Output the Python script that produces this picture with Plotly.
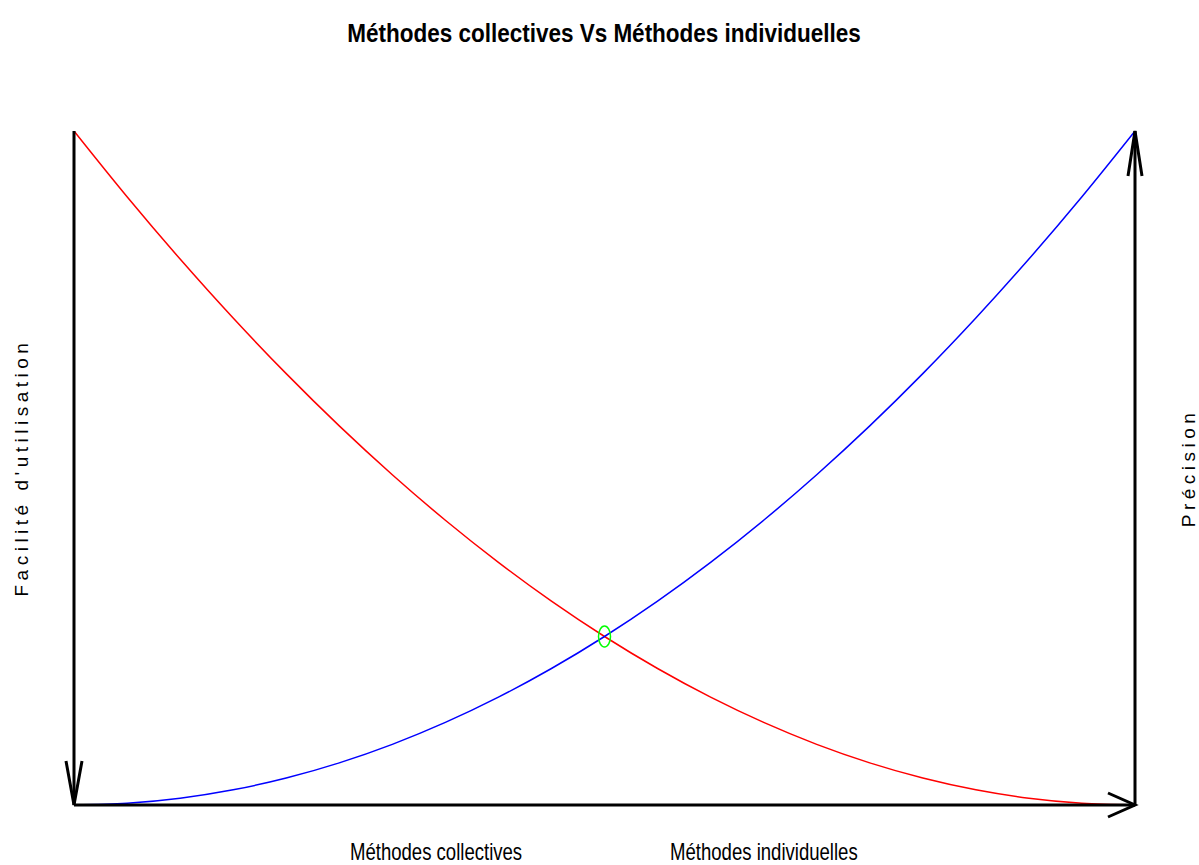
import plotly.graph_objects as go

# values (x runs 0..1 along the bottom axis)
x_vals = [0.0, 0.05, 0.1, 0.15, 0.2, 0.25, 0.3, 0.35, 0.4, 0.45, 0.5,
          0.55, 0.6, 0.65, 0.7, 0.75, 0.8, 0.85, 0.9, 0.95, 1.0]
facilite = [1.0, 0.9025, 0.81, 0.7225, 0.64, 0.5625, 0.49, 0.4225, 0.36, 0.3025, 0.25,
            0.2025, 0.16, 0.1225, 0.09, 0.0625, 0.04, 0.0225, 0.01, 0.0025, 0.0]
precision = [0.0, 0.0025, 0.01, 0.0225, 0.04, 0.0625, 0.09, 0.1225, 0.16, 0.2025, 0.25,
             0.3025, 0.36, 0.4225, 0.49, 0.5625, 0.64, 0.7225, 0.81, 0.9025, 1.0]
cross_x = [0.5]
cross_y = [0.25]
group_labels = ["Méthodes collectives", "Méthodes individuelles"]
group_pos = [0.341, 0.650]

W, H = 1199, 865
ML, MR, MT, MB = 74, 64, 131, 60
pw = W - ML - MR
ph = H - MT - MB
px_x = 1 / pw   # paper units per pixel
px_y = 1 / ph

fig = go.Figure()
fig.add_trace(go.Scatter(x=x_vals, y=facilite, mode="lines", line_shape="spline",
                         line=dict(color="#ff0000", width=1.5), cliponaxis=False))
fig.add_trace(go.Scatter(x=x_vals, y=precision, mode="lines", line_shape="spline",
                         line=dict(color="#0000ff", width=1.5), cliponaxis=False))

black = dict(color="black", width=3)
P = dict(xref="paper", yref="paper")
shapes = [
    dict(type="line", x0=0, y0=1, x1=0, y1=0, line=black, **P),
    dict(type="line", x0=0, y0=0, x1=1, y1=0, line=black, **P),
    dict(type="line", x0=1, y0=0, x1=1, y1=1, line=black, **P),
    # arrow heads (open V)
    dict(type="path", line=black, **P,
         path=f"M {-8*px_x},{44*px_y} L 0,0 L {8*px_x},{44*px_y}"),
    dict(type="path", line=black, **P,
         path=f"M {1-27*px_x},{12*px_y} L 1,0 L {1-27*px_x},{-12*px_y}"),
    dict(type="path", line=black, **P,
         path=f"M {1-7*px_x},{1-45*px_y} L 1,1 L {1+7*px_x},{1-45*px_y}"),
    # green marker at the crossing
    dict(type="circle", xref="x", yref="y", xsizemode="pixel", ysizemode="pixel",
         xanchor=cross_x[0], yanchor=cross_y[0], x0=-6, x1=6, y0=-10.5, y1=10.5,
         line=dict(color="#00ff00", width=1.5)),
]

annotations = [
    dict(x=p, y=0, xref="x", yref="y", text=t, showarrow=False, yshift=-47,
         font=dict(family="Liberation Sans, Arial", size=23.5, color="black"))
    for t, p in zip(group_labels, group_pos)
]
side = [("Facilité d'utilisation", 21, 468), ("Précision", 1188, 468)]
for t, xp, yp in side:
    annotations.append(
        dict(x=(xp - ML) / pw, y=(H - MB - yp) / ph, xref="paper", yref="paper",
             xanchor="center", yanchor="middle",
             text=t, showarrow=False, textangle=-90,
             font=dict(family="Liberation Sans, Arial", size=19, color="black")))

fig.update_layout(
    width=W, height=H,
    margin=dict(l=ML, r=MR, t=MT, b=MB),
    paper_bgcolor="white", plot_bgcolor="white",
    showlegend=False,
    title=dict(text="<b>Méthodes collectives Vs Méthodes individuelles</b>",
               x=604 / W, xanchor="center", y=1 - 33 / H, yanchor="middle",
               font=dict(family="Liberation Sans, Arial", size=25, color="black")),
    xaxis=dict(range=[0, 1], visible=False),
    yaxis=dict(range=[0, 1], visible=False),
    shapes=shapes,
    annotations=annotations,
)

# page margin off, narrow title and bottom labels, wide spacing of the side labels
post = """
document.body.style.margin = '0';
function narrow(t, k) {
  t.style.transformBox = 'fill-box';
  t.style.transformOrigin = 'center';
  t.style.transform = 'scaleX(' + k + ')';
}
document.querySelectorAll('.gtitle').forEach(function (t) { narrow(t, 0.9); });
document.querySelectorAll('.annotation-text').forEach(function (t) {
  var s = t.textContent;
  if (s === 'Précision' || s === "Facilité d'utilisation") {
    t.style.letterSpacing = '4.5px';
  } else if (s.indexOf('Méthodes') === 0) {
    narrow(t, 0.79);
  }
});
"""
fig.write_html("out.html", post_script=post, config={"displayModeBar": False})
